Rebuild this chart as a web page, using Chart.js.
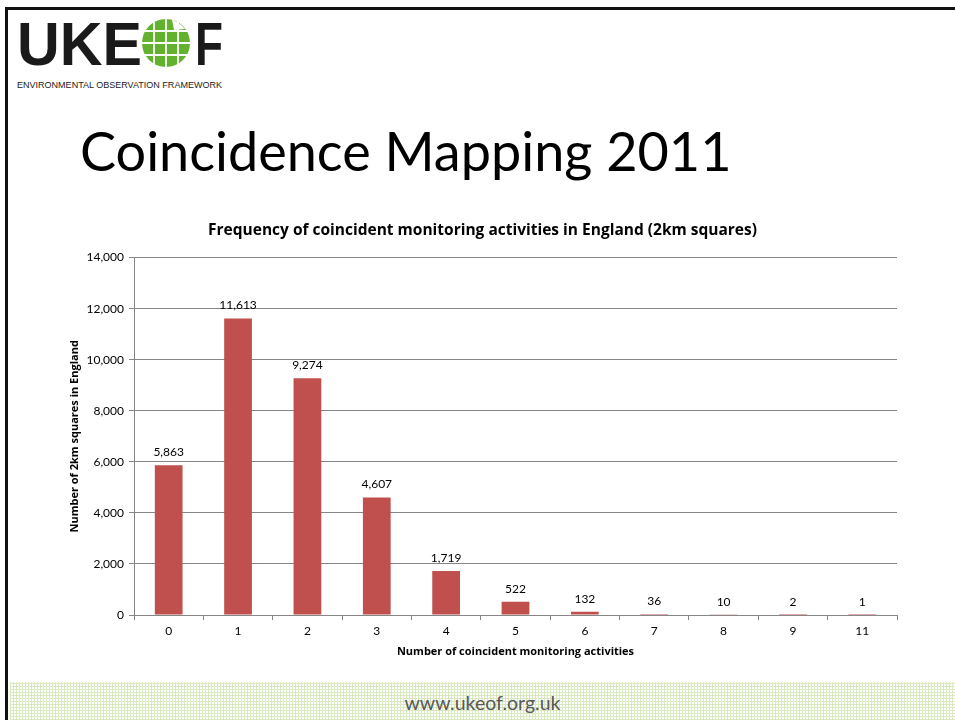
<!DOCTYPE html>
<html>
<head>
<meta charset="utf-8">
<script src="https://cdn.jsdelivr.net/npm/chart.js@4"></script>
<style>
  html, body { margin: 0; padding: 0; background: #fff; }
  body { width: 955px; height: 720px; position: relative; overflow: hidden; font-family: Lato, "Open Sans", sans-serif; }
  #frameTop { position: absolute; left: 5px; top: 7px; width: 950px; height: 3px; background: #111; }
  #frameLeft { position: absolute; left: 5px; top: 7px; width: 3px; height: 713px; background: #111; }
  #logo { position: absolute; left: 14px; top: 14px; }
  #slideTitle { position: absolute; left: 80px; top: 118px; font-size: 54px; color: #000; white-space: nowrap; }
  #chartBox { position: absolute; left: 40px; top: 205px; width: 880px; height: 470px; }
  #footer {
    position: absolute; left: 10px; top: 682px; width: 945px; height: 38px;
    background-color: #fff;
    background-image:
      repeating-linear-gradient(0deg, #d9e8bf 0 1px, transparent 1px 3px),
      repeating-linear-gradient(90deg, #d9e8bf 0 1px, transparent 1px 3px);
  }
  #footer span { position: absolute; left: 0; width: 945px; top: 9px; text-align: center; font-size: 19.5px; color: #595959; }
</style>
</head>
<body>
<div id="frameTop"></div>
<div id="frameLeft"></div>
<svg id="logo" width="220" height="80" viewBox="0 0 220 80">
  <text x="3" y="51" font-family="Liberation Sans Narrow, Liberation Sans, Arial, sans-serif" font-weight="bold" font-size="62" fill="#1a1a1a" textLength="125" lengthAdjust="spacingAndGlyphs">UKE</text>
  <circle cx="152" cy="29" r="24" fill="#62b22f"/>
  <g stroke="#fff" stroke-width="1.8">
    <line x1="128" y1="17" x2="176" y2="17"/>
    <line x1="128" y1="29" x2="176" y2="29"/>
    <line x1="128" y1="41" x2="176" y2="41"/>
    <line x1="140" y1="5" x2="140" y2="53"/>
    <line x1="152" y1="5" x2="152" y2="53"/>
    <line x1="164" y1="5" x2="164" y2="53"/>
  </g>
  <path d="M158 5.8 L160 16 L171 15 Q165 8 158 5.8 Z" fill="#fff"/>
  <text x="181" y="51" font-family="Liberation Sans Narrow, Liberation Sans, Arial, sans-serif" font-weight="bold" font-size="62" fill="#1a1a1a" textLength="28" lengthAdjust="spacingAndGlyphs">F</text>
  <text x="3" y="74" font-family="Liberation Sans Narrow, Liberation Sans, Arial, sans-serif" font-size="9" fill="#222" textLength="205" lengthAdjust="spacingAndGlyphs">ENVIRONMENTAL OBSERVATION FRAMEWORK</text>
</svg>
<div id="slideTitle">Coincidence Mapping 2011</div>
<div id="chartBox"><canvas id="chart" width="880" height="470"></canvas></div>
<div id="footer"><span>www.ukeof.org.uk</span></div>
<script>
// Chart data
const categories = ['0', '1', '2', '3', '4', '5', '6', '7', '8', '9', '11'];
const squareCounts = [5863, 11613, 9274, 4607, 1719, 522, 132, 36, 10, 2, 1];
const yTicks = [0, 2000, 4000, 6000, 8000, 10000, 12000, 14000];

const chartFont = 'Lato, "Open Sans", sans-serif';
const boldFont = '"Open Sans", Lato, sans-serif';
const fmt = v => v.toLocaleString('en-US');

// Value labels above bars
const barLabels = {
    id: 'barLabels',
    afterDatasetsDraw(chart) {
        const ctx = chart.ctx;
        const meta = chart.getDatasetMeta(0);
        ctx.save();
        ctx.font = '12px ' + chartFont;
        ctx.fillStyle = '#000';
        ctx.textAlign = 'center';
        ctx.textBaseline = 'bottom';
        meta.data.forEach((bar, i) => {
            ctx.fillText(fmt(squareCounts[i]), bar.x, bar.y - 7);
        });
        ctx.restore();
    }
};

new Chart(document.getElementById('chart'), {
    type: 'bar',
    data: {
        labels: categories,
        datasets: [{
            data: squareCounts,
            backgroundColor: '#c0504d',
            barPercentage: 0.4,
            categoryPercentage: 1.0
        }]
    },
    options: {
        responsive: false,
        animation: false,
        layout: { padding: { top: 0, right: 23, bottom: 17, left: 28 } },
        plugins: {
            legend: { display: false },
            tooltip: { enabled: false },
            title: {
                display: true,
                text: 'Frequency of coincident monitoring activities in England (2km squares)',
                color: '#000',
                font: { family: boldFont, size: 15.5, weight: 'bold' },
                padding: { top: 16, bottom: 18 }
            }
        },
        scales: {
            x: {
                afterFit(scale) { scale.height = 43; },
                grid: { offset: true, drawOnChartArea: false, color: '#868686', tickLength: 5 },
                border: { color: '#868686' },
                ticks: { color: '#000', font: { family: chartFont, size: 12 }, padding: 4 },
                title: {
                    display: true,
                    text: 'Number of coincident monitoring activities',
                    color: '#000',
                    font: { family: boldFont, size: 11, weight: 'bold' },
                    padding: { top: 0, bottom: 0 }
                }
            },
            y: {
                min: 0,
                max: 14000,
                afterBuildTicks(scale) { scale.ticks = yTicks.map(v => ({ value: v })); },
                afterFit(scale) { scale.width = 66; },
                grid: { color: '#868686', tickLength: 5 },
                border: { color: '#868686' },
                ticks: { color: '#000', font: { family: chartFont, size: 12 }, padding: 5, callback: v => fmt(v) },
                title: {
                    display: true,
                    text: 'Number of 2km squares in England',
                    color: '#000',
                    font: { family: boldFont, size: 11, weight: 'bold' },
                    padding: { top: 0, bottom: 0 }
                }
            }
        }
    },
    plugins: [barLabels]
});
</script>
</body>
</html>
